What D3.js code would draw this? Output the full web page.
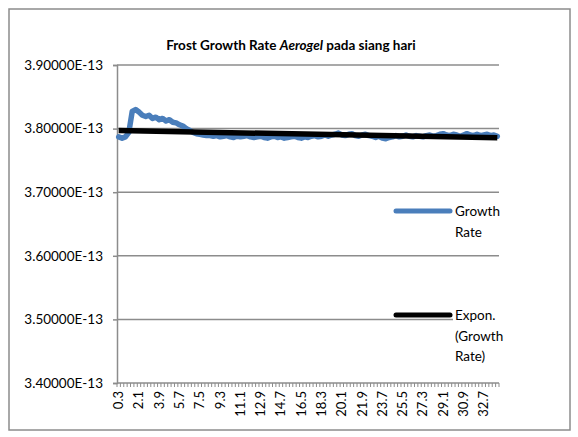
<!DOCTYPE html>
<html>
<head>
<meta charset="utf-8">
<script src="https://cdn.jsdelivr.net/npm/d3@7"></script>
<style>
  html, body { margin: 0; padding: 0; background: #fff; }
  svg { display: block; font-family: Lato, "Open Sans", sans-serif; }
</style>
</head>
<body>
<svg id="chart" width="578" height="437"></svg>
<script>
// Time categories (0.3 step), growth rate in units of 1e-13
const categories = d3.range(1, 114).map(i => (i * 0.3).toFixed(1));
const growthRate = [
  3.787, 3.785, 3.787, 3.794, 3.827, 3.830, 3.826, 3.821, 3.819, 3.821,
  3.816, 3.818, 3.814, 3.816, 3.812, 3.814, 3.810, 3.809, 3.806, 3.804,
  3.800, 3.797, 3.794, 3.792, 3.791, 3.790, 3.789, 3.789, 3.788, 3.789,
  3.787, 3.788, 3.789, 3.787, 3.786, 3.788, 3.787, 3.788, 3.789, 3.787,
  3.786, 3.787, 3.788, 3.786, 3.785, 3.787, 3.788, 3.786, 3.787, 3.785,
  3.786, 3.787, 3.788, 3.786, 3.785, 3.787, 3.786, 3.788, 3.789, 3.787,
  3.788, 3.790, 3.788, 3.790, 3.791, 3.793, 3.790, 3.789, 3.791, 3.792,
  3.789, 3.788, 3.790, 3.791, 3.789, 3.788, 3.786, 3.788, 3.785, 3.784,
  3.786, 3.787, 3.789, 3.787, 3.788, 3.790, 3.788, 3.787, 3.789, 3.788,
  3.787, 3.789, 3.790, 3.788, 3.789, 3.791, 3.792, 3.790, 3.789, 3.791,
  3.790, 3.788, 3.790, 3.792, 3.790, 3.789, 3.791, 3.789, 3.790, 3.791,
  3.789, 3.790, 3.788
];
// Exponential trend (Expon.) read at first and last category
const trendCategories = [categories[0], categories[categories.length - 1]];
const trendValues = [3.7970, 3.7855];
const yTicks = [3.4, 3.5, 3.6, 3.7, 3.8, 3.9];
const xTickLabels = categories.filter((d, i) => i % 6 === 0);
const seriesNames = ["Growth Rate", "Expon. (Growth Rate)"];

const svg = d3.select("#chart");
const plot = { left: 117, right: 499, top: 65, bottom: 383 };
const gray = "#8c8c8c";

// chart frame
svg.append("rect")
  .attr("x", 9).attr("y", 9).attr("width", 561).attr("height", 421)
  .attr("fill", "#fff").attr("stroke", gray).attr("stroke-width", 1.5);

svg.append("text")
  .attr("x", 291).attr("y", 50)
  .attr("text-anchor", "middle")
  .attr("font-size", 13.5).attr("font-weight", "bold").attr("fill", "#000")
  .call(t => {
    t.append("tspan").text("Frost Growth Rate ");
    t.append("tspan").attr("font-style", "italic").text("Aerogel");
    t.append("tspan").text(" pada siang hari");
  });

const x = d3.scaleBand().domain(categories).range([plot.left, plot.right]);
const y = d3.scaleLinear().domain([3.4, 3.9]).range([plot.bottom, plot.top]);

// horizontal gridlines
svg.append("g")
  .selectAll("line").data(yTicks.slice(1)).join("line")
  .attr("x1", plot.left).attr("x2", plot.right)
  .attr("y1", d => y(d)).attr("y2", d => y(d))
  .attr("stroke", gray).attr("stroke-width", 1.5);

// y axis
const yAxis = svg.append("g")
  .attr("transform", `translate(${plot.left},0)`)
  .call(d3.axisLeft(y).tickValues(yTicks).tickSize(4).tickPadding(10)
    .tickFormat(d => d3.format(".5f")(d) + "E-13"));
yAxis.selectAll("text")
  .attr("font-size", 13.5).attr("fill", "#000").attr("font-family", "Lato, sans-serif");
yAxis.select(".domain").attr("stroke", gray).attr("stroke-width", 1.5);
yAxis.selectAll(".tick line").attr("stroke", gray).attr("stroke-width", 1.5);

// x axis: tick marks at category boundaries
const xg = svg.append("g").attr("transform", `translate(0,${plot.bottom})`);
xg.append("line")
  .attr("x1", plot.left).attr("x2", plot.right)
  .attr("stroke", gray).attr("stroke-width", 1.5);
xg.selectAll("line.tk").data(categories.concat(["end"])).join("line")
  .attr("class", "tk")
  .attr("x1", (d, i) => plot.left + i * x.step())
  .attr("x2", (d, i) => plot.left + i * x.step())
  .attr("y1", 0).attr("y2", 4)
  .attr("stroke", gray).attr("stroke-width", 1);
xg.selectAll("text").data(xTickLabels).join("text")
  .attr("transform", d => `translate(${x(d) + x.bandwidth() / 2 + 4.5},8) rotate(-90)`)
  .attr("text-anchor", "end")
  .attr("font-size", 13).attr("fill", "#000")
  .text(d => d);

const cx = d => x(d) + x.bandwidth() / 2;

// growth rate series
svg.append("path")
  .datum(growthRate)
  .attr("fill", "none")
  .attr("stroke", "#4a7ebb").attr("stroke-width", 5.5)
  .attr("stroke-linejoin", "round").attr("stroke-linecap", "round")
  .attr("d", d3.line().x((d, i) => cx(categories[i])).y(d => y(d)));

// exponential trendline
svg.append("path")
  .datum(trendValues)
  .attr("fill", "none")
  .attr("stroke", "#000").attr("stroke-width", 5.5)
  .attr("d", d3.line().x((d, i) => cx(trendCategories[i])).y(d => y(d)));

// legend
const legend = [
  { name: seriesNames[0], color: "#4a7ebb", y: 211, lines: ["Growth", "Rate"] },
  { name: seriesNames[1], color: "#000", y: 315, lines: ["Expon.", "(Growth", "Rate)"] }
];
const lg = svg.append("g");
legend.forEach(e => {
  lg.append("rect")
    .attr("x", 453).attr("y", e.y - 9).attr("width", 50).attr("height", e.lines.length * 20)
    .attr("fill", "#fff");
  lg.append("line")
    .attr("x1", 396).attr("x2", 450).attr("y1", e.y).attr("y2", e.y)
    .attr("stroke", e.color).attr("stroke-width", 5).attr("stroke-linecap", "round");
  lg.append("text")
    .attr("x", 455).attr("y", e.y + 5)
    .attr("font-size", 13.5).attr("fill", "#000")
    .selectAll("tspan").data(e.lines).join("tspan")
    .attr("x", 455).attr("dy", (d, i) => i === 0 ? 0 : 20.5)
    .text(d => d);
});
</script>
</body>
</html>
